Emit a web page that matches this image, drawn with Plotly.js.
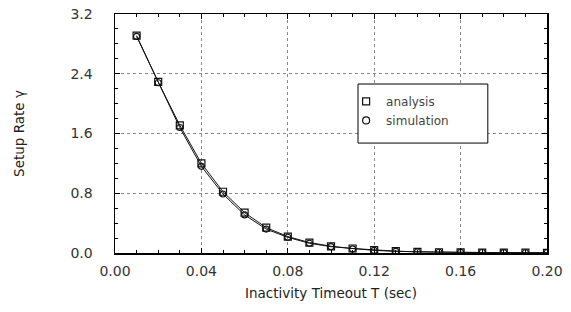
<!DOCTYPE html>
<html><head><meta charset="utf-8">
<script src="https://cdn.plot.ly/plotly-3.0.1.min.js"></script>
<style>html,body{margin:0;padding:0;background:#fff;}#chart{width:571px;height:312px;}</style>
</head><body><div id="chart"></div>
<script>
const timeout = [0.01,0.02,0.03,0.04,0.05,0.06,0.07,0.08,0.09,0.10,0.11,0.12,0.13,0.14,0.15,0.16,0.17,0.18,0.19,0.20];
const analysis = [2.91,2.29,1.71,1.20,0.82,0.54,0.34,0.22,0.14,0.09,0.06,0.04,0.025,0.015,0.01,0.008,0.006,0.005,0.004,0.003];
const simulation = [2.90,2.28,1.68,1.16,0.79,0.51,0.32,0.21,0.13,0.085,0.055,0.035,0.022,0.014,0.01,0.008,0.006,0.005,0.004,0.003];
const xTicks = [0.00,0.04,0.08,0.12,0.16,0.20];
const yTicks = [0.0,0.8,1.6,2.4,3.2];

const fnt = {family:'DejaVu Sans', size:14, color:'#333'};
const traces = [
  {x:timeout, y:analysis, mode:'lines+markers', showlegend:false,
   line:{color:'#111', width:1},
   marker:{symbol:'square-open', size:7, color:'#111', line:{width:1.2}}},
  {x:timeout, y:simulation, mode:'lines+markers', showlegend:false,
   line:{color:'#111', width:1},
   marker:{symbol:'circle-open', size:6, color:'#111', line:{width:1.1}}},
  {x:[null], y:[null], mode:'markers', name:'analysis',
   marker:{symbol:'square-open', size:7, color:'#111', line:{width:1.2}}},
  {x:[null], y:[null], mode:'markers', name:'simulation',
   marker:{symbol:'circle-open', size:7, color:'#111', line:{width:1.2}}}
];
const axBase = {showline:true, linecolor:'#000', linewidth:1.5, mirror:'allticks',
  ticks:'inside', ticklen:5, tickcolor:'#000', zeroline:false,
  showgrid:true, gridcolor:'#888', griddash:'dot', gridwidth:1,
  tickfont:fnt};
const layout = {
  width:571, height:312,
  margin:{l:115, r:24, t:14, b:59},
  paper_bgcolor:'#fff', plot_bgcolor:'#fff',
  xaxis:Object.assign({}, axBase, {range:[0,0.2], tickvals:xTicks, tickformat:'.2f',
    ticklabelstandoff:5,
    minor:{dtick:0.01, ticks:'inside', ticklen:3, tickcolor:'#000', showgrid:false},
    title:{text:'Inactivity Timeout T (sec)', font:{family:'DejaVu Sans', size:13.5, color:'#222'}, standoff:10}}),
  yaxis:Object.assign({}, axBase, {range:[0,3.2], tickvals:yTicks, tickformat:'.1f',
    ticklabelstandoff:18,
    minor:{dtick:0.2, ticks:'inside', ticklen:3, tickcolor:'#000', showgrid:false},
    title:{text:'Setup Rate γ', font:{family:'DejaVu Sans', size:13.5, color:'#222'}, standoff:42}}),
  shapes:[{type:'rect', xref:'paper', yref:'paper', x0:0.5625, x1:0.863, y0:0.46, y1:0.707,
    fillcolor:'#fff', line:{color:'#000', width:1}, layer:'above'}],
  legend:{x:0.535, y:0.695, xanchor:'left', yanchor:'top', bgcolor:'rgba(0,0,0,0)',
    borderwidth:0, font:{family:'DejaVu Sans', size:12, color:'#444'},
    itemwidth:30, tracegroupgap:0, valign:'middle'}
};
Plotly.newPlot('chart', traces, layout, {displayModeBar:false, staticPlot:true});
</script></body></html>
